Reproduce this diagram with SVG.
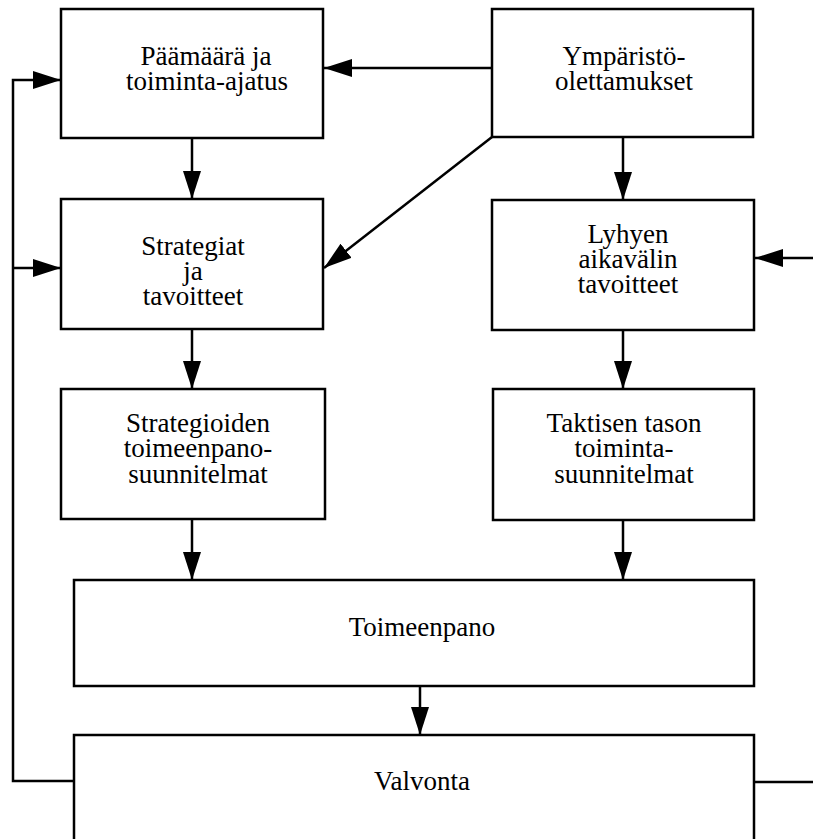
<svg xmlns="http://www.w3.org/2000/svg" width="813" height="839" viewBox="0 0 813 839">
<style>
.box{fill:#fff;stroke:#000;stroke-width:2.5}
.t{font-family:"Liberation Serif","Times New Roman",serif;font-size:27px;fill:#000;text-anchor:middle}
.c{fill:none;stroke:#000;stroke-width:2.5}
</style>
<defs>
<marker id="ah" viewBox="0 0 28 18" refX="28" refY="9" markerWidth="28" markerHeight="18" markerUnits="userSpaceOnUse" orient="auto">
<path d="M0,0 L28,9 L0,18 Z" fill="#000"/>
</marker>
</defs>
<rect width="813" height="839" fill="#fff"/>
<g id="connectors">
<path class="c" d="M492,68 H324" marker-end="url(#ah)"/>
<path class="c" d="M492,137 L324,268" marker-end="url(#ah)"/>
<path class="c" d="M623,137 V200" marker-end="url(#ah)"/>
<path class="c" d="M192,138 V199" marker-end="url(#ah)"/>
<path class="c" d="M192,329 V389" marker-end="url(#ah)"/>
<path class="c" d="M623,330 V389" marker-end="url(#ah)"/>
<path class="c" d="M192,519 V580" marker-end="url(#ah)"/>
<path class="c" d="M623,520 V580" marker-end="url(#ah)"/>
<path class="c" d="M420,686 V735" marker-end="url(#ah)"/>
<path class="c" d="M74,781 H13 V80 H61" marker-end="url(#ah)"/>
<path class="c" d="M13,268 H61" marker-end="url(#ah)"/>
<path class="c" d="M754,782 H813"/>
<path class="c" d="M813,258 H755" marker-end="url(#ah)"/>
</g>
<g id="n1"><rect class="box" x="61" y="9" width="262" height="129"/>
<text class="t" x="206" y="65">Päämäärä ja</text><text class="t" x="207" y="90">toiminta-ajatus</text></g>
<g id="n2"><rect class="box" x="492" y="9" width="261" height="128"/>
<text class="t" x="624" y="65">Ympäristö-</text><text class="t" x="624" y="90">olettamukset</text></g>
<g id="n3"><rect class="box" x="61" y="199" width="262" height="130"/>
<text class="t" x="193" y="255">Strategiat</text><text class="t" x="193" y="280">ja</text><text class="t" x="193" y="305">tavoitteet</text></g>
<g id="n4"><rect class="box" x="492" y="200" width="262" height="130"/>
<text class="t" x="628" y="243">Lyhyen</text><text class="t" x="628" y="268">aikavälin</text><text class="t" x="628" y="293">tavoitteet</text></g>
<g id="n5"><rect class="box" x="61" y="389" width="264" height="130"/>
<text class="t" x="198" y="432">Strategioiden</text><text class="t" x="198" y="457">toimeenpano-</text><text class="t" x="198" y="483">suunnitelmat</text></g>
<g id="n6"><rect class="box" x="493" y="389" width="261" height="131"/>
<text class="t" x="624" y="432">Taktisen tason</text><text class="t" x="624" y="457">toiminta-</text><text class="t" x="624" y="483">suunnitelmat</text></g>
<g id="n7"><rect class="box" x="74" y="580" width="680" height="106"/>
<text class="t" x="422" y="636">Toimeenpano</text></g>
<g id="n8"><rect class="box" x="74" y="735" width="680" height="120"/>
<text class="t" x="422" y="790">Valvonta</text></g>
</svg>
